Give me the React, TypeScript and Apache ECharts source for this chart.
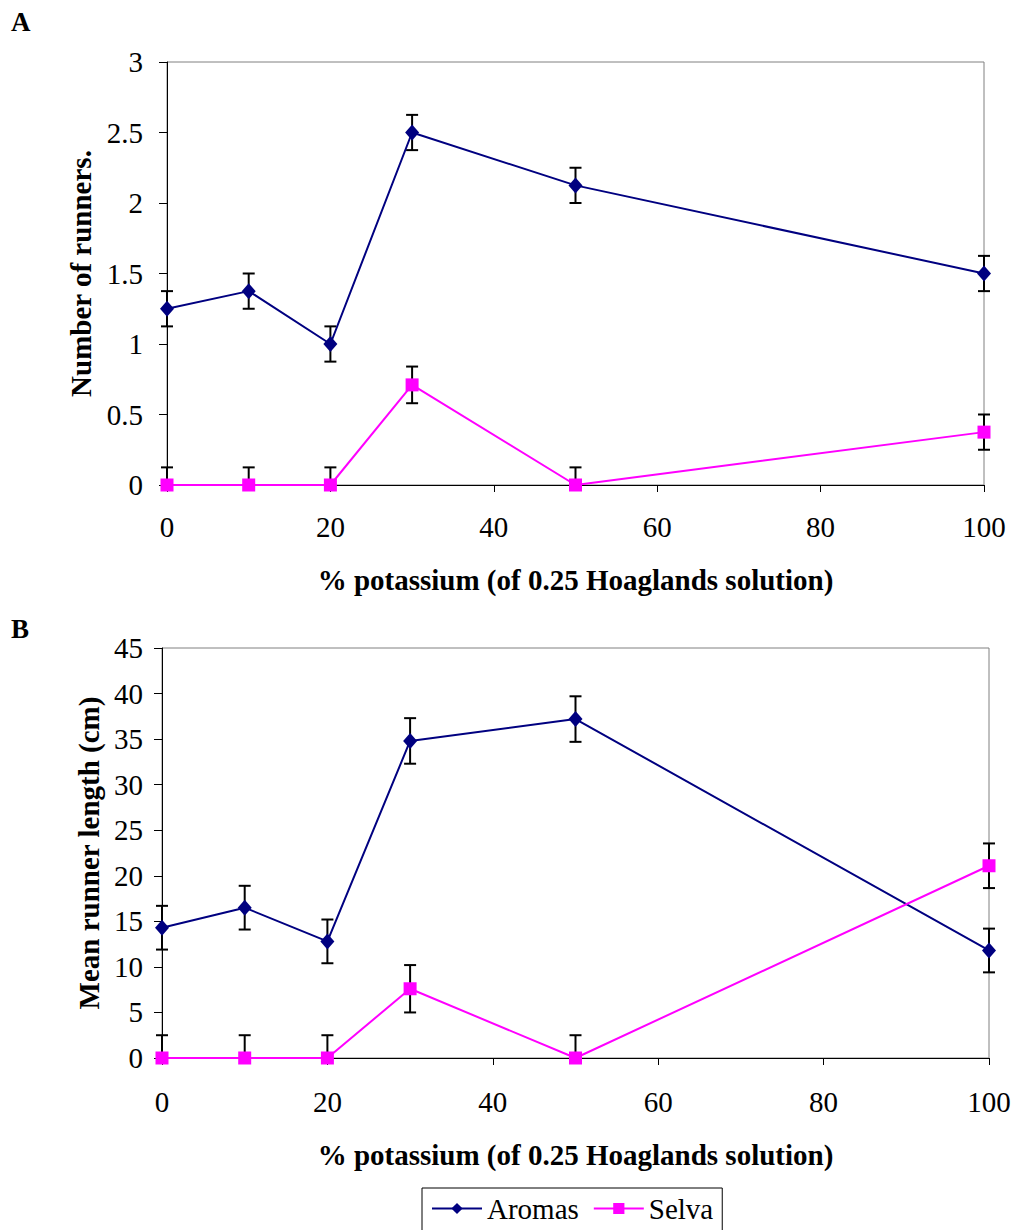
import React, { useEffect, useRef } from "react";
import * as echarts from "echarts";

const potassium = [0, 10, 20, 30, 50, 100];

const runnersAromas = [1.25, 1.375, 1.0, 2.5, 2.125, 1.5];
const runnersAromasErr = [0.125, 0.125, 0.125, 0.125, 0.125, 0.125];
const runnersSelva = [0, 0, 0, 0.71, 0, 0.375];
const runnersSelvaErr = [0.125, 0.125, 0.125, 0.13, 0.125, 0.125];

const lengthAromas = [14.3, 16.5, 12.8, 34.8, 37.2, 11.8];
const lengthAromasErr = [2.4, 2.4, 2.4, 2.5, 2.5, 2.4];
const lengthSelva = [0, 0, 0, 7.6, 0, 21.1];
const lengthSelvaErr = [2.5, 2.5, 2.5, 2.6, 2.5, 2.45];

const yTicksA = { min: 0, max: 3, interval: 0.5 };
const yTicksB = { min: 0, max: 45, interval: 5 };
const xTicks = { min: 0, max: 100, interval: 20 };

const FONT = "'Liberation Serif', 'Times New Roman', serif";
const FS = 29;

function errData(vals: number[], errs: number[]) {
  return vals.map((v, i) => [potassium[i], Math.max(0, v - errs[i]), v + errs[i], v === 0 ? 0 : 1]);
}

function renderErr(params: any, api: any) {
  const x = api.value(0);
  const lo = api.value(1);
  const hi = api.value(2);
  const showBottom = api.value(3);
  const top = api.coord([x, hi]);
  const bot = api.coord([x, lo]);
  const hw = 6;
  const st = { stroke: "#000", lineWidth: 2 };
  const children: any[] = [
    { type: "line", shape: { x1: top[0], y1: top[1], x2: bot[0], y2: bot[1] }, style: st },
    { type: "line", shape: { x1: top[0] - hw, y1: top[1], x2: top[0] + hw, y2: top[1] }, style: st },
  ];
  if (showBottom) {
    children.push({ type: "line", shape: { x1: bot[0] - hw, y1: bot[1], x2: bot[0] + hw, y2: bot[1] }, style: st });
  }
  return { type: "group", children };
}

const xAxisCommon = (gridIndex: number, margin: number, nameGap: number) => ({
  type: "value",
  gridIndex,
  ...xTicks,
  name: "% potassium (of 0.25 Hoaglands solution)",
  nameLocation: "middle",
  nameGap,
  nameTextStyle: { fontFamily: FONT, fontSize: FS, fontWeight: "bold", color: "#000" },
  axisLine: { show: true, lineStyle: { color: "#000", width: 1 } },
  axisTick: { show: true, length: 7, lineStyle: { color: "#000" } },
  axisLabel: { fontFamily: FONT, fontSize: FS, color: "#000", margin },
  splitLine: { show: false },
});

const yAxisCommon = (gridIndex: number, ticks: any, name: string, margin: number, nameGap: number) => ({
  type: "value",
  gridIndex,
  ...ticks,
  name,
  nameLocation: "middle",
  nameGap,
  nameTextStyle: { fontFamily: FONT, fontSize: FS, fontWeight: "bold", color: "#000" },
  axisLine: { show: true, lineStyle: { color: "#000", width: 1 } },
  axisTick: { show: true, length: 8, lineStyle: { color: "#000" } },
  axisLabel: { fontFamily: FONT, fontSize: FS, color: "#000", margin },
  splitLine: { show: false },
});

const lineSeries = (name: string, vals: number[], idx: number, color: string, symbol: string, size: any) => ({
  type: "line",
  name,
  xAxisIndex: idx,
  yAxisIndex: idx,
  data: vals.map((v, i) => [potassium[i], v]),
  symbol,
  symbolSize: size,
  showAllSymbol: true,
  itemStyle: { color },
  lineStyle: { color, width: 2 },
  z: 3,
});

const errSeries = (vals: number[], errs: number[], idx: number) => ({
  type: "custom",
  xAxisIndex: idx,
  yAxisIndex: idx,
  data: errData(vals, errs),
  renderItem: renderErr,
  z: 2,
  silent: true,
});

export default function App() {
  const ref = useRef<HTMLDivElement>(null);
  useEffect(() => {
    if (!ref.current) return;
    const chart = echarts.init(ref.current, undefined, { renderer: "svg" });
    chart.setOption({
      animation: false,
      backgroundColor: "#fff",
      textStyle: { fontFamily: FONT },
      graphic: [
        { type: "text", left: 11, top: 8, style: { text: "A", font: `bold 27px ${FONT}`, fill: "#000" } },
        { type: "text", left: 11, top: 615, style: { text: "B", font: `bold 27px ${FONT}`, fill: "#000" } },
      ],
      grid: [
        { left: 167, top: 62, width: 817, height: 423, show: true, borderColor: "#808080", borderWidth: 1, backgroundColor: "transparent" },
        { left: 162, top: 648, width: 827, height: 410, show: true, borderColor: "#808080", borderWidth: 1, backgroundColor: "transparent" },
      ],
      xAxis: [xAxisCommon(0, 27, 80), xAxisCommon(1, 29, 82)],
      yAxis: [
        yAxisCommon(0, yTicksA, "Number of runners.", 24, 72),
        yAxisCommon(1, yTicksB, "Mean runner length (cm)", 19, 59),
      ],
      legend: {
        data: ["Aromas", "Selva"],
        left: 422,
        top: 1188,
        padding: [6, 9, 12, 9],
        borderColor: "#000",
        borderWidth: 1,
        itemGap: 14,
        itemWidth: 50,
        itemHeight: 14,
        textStyle: { fontFamily: FONT, fontSize: FS, color: "#000" },
      },
      series: [
        errSeries(runnersAromas, runnersAromasErr, 0),
        errSeries(runnersSelva, runnersSelvaErr, 0),
        lineSeries("Aromas", runnersAromas, 0, "#000080", "diamond", [14, 16]),
        lineSeries("Selva", runnersSelva, 0, "#FF00FF", "rect", 13),
        errSeries(lengthAromas, lengthAromasErr, 1),
        errSeries(lengthSelva, lengthSelvaErr, 1),
        lineSeries("Aromas", lengthAromas, 1, "#000080", "diamond", [14, 16]),
        lineSeries("Selva", lengthSelva, 1, "#FF00FF", "rect", 13),
      ],
    });
    return () => chart.dispose();
  }, []);
  return (
    <div
      ref={ref}
      style={{ position: "absolute", left: 0, top: 0, width: 1014, height: 1230, background: "#fff" }}
    />
  );
}
